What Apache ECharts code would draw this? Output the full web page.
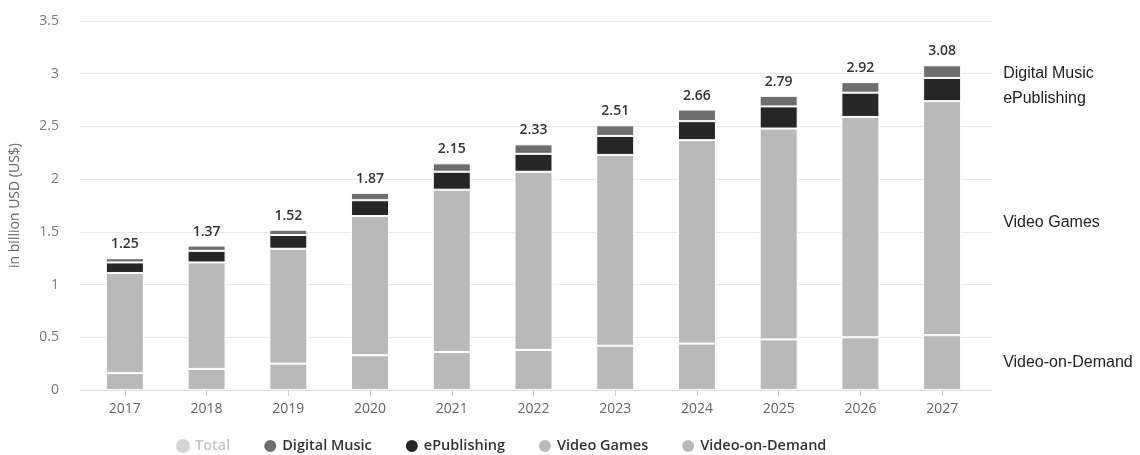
<!DOCTYPE html>
<html>
<head>
<meta charset="utf-8">
<script src="https://cdn.jsdelivr.net/npm/echarts@6/dist/echarts.min.js"></script>
<style>
html,body{margin:0;padding:0;background:#fff;}
#chart{width:1140px;height:455px;}
</style>
</head>
<body>
<div id="chart"></div>
<script>
const years = ['2017','2018','2019','2020','2021','2022','2023','2024','2025','2026','2027'];
const videoOnDemand = [0.16,0.20,0.25,0.33,0.36,0.38,0.42,0.44,0.48,0.50,0.52];
const videoGames    = [0.95,1.01,1.09,1.32,1.54,1.69,1.81,1.93,2.00,2.09,2.22];
const ePublishing   = [0.10,0.11,0.13,0.15,0.17,0.17,0.18,0.18,0.21,0.23,0.22];
const digitalMusic  = [0.04,0.05,0.05,0.07,0.08,0.09,0.10,0.11,0.10,0.10,0.12];
const totals        = [1.25,1.37,1.52,1.87,2.15,2.33,2.51,2.66,2.79,2.92,3.08];
const yTicks = [0,0.5,1,1.5,2,2.5,3,3.5];

const FONT = '"Open Sans", "Noto Sans", sans-serif';
const last = years.length - 1;

function withEndLabel(arr, name, offset) {
  return arr.map((v, i) => i === last ? {
    value: v,
    label: {
      show: true, position: 'right', distance: 42, offset: offset,
      formatter: name, color: '#222', fontSize: 16,
      fontFamily: '"Liberation Sans", Arial, sans-serif'
    }
  } : v);
}

const barStyle = (c) => ({ color: c, borderColor: '#ffffff', borderWidth: 1 });

const chart = echarts.init(document.getElementById('chart'));
chart.setOption({
  animation: false,
  backgroundColor: '#fff',
  grid: [
    { left: 76, right: 148, top: 21, bottom: 65, containLabel: false },
    { left: 84, right: 157, top: 21, bottom: 65, containLabel: false }
  ],
  legend: {
    top: 433,
    left: 171,
    icon: 'circle',
    itemWidth: 14, itemHeight: 14,
    itemGap: 32,
    textStyle: { fontFamily: FONT, fontSize: 14.5, fontWeight: 600, color: '#333' },
    data: [
      { name: 'Total', itemStyle: { color: '#d4d4d4' }, textStyle: { color: '#c4c4c4' } },
      { name: 'Digital Music' },
      { name: 'ePublishing' },
      { name: 'Video Games' },
      { name: 'Video-on-Demand' }
    ]
  },
  xAxis: [
    { type: 'category', gridIndex: 0, data: years, show: true,
      axisLine: { show: true, lineStyle: { color: '#dedede' } },
      axisTick: { show: false }, axisLabel: { show: false }, splitLine: { show: false } },
    { type: 'category', gridIndex: 1, data: years,
      axisLine: { show: false },
      axisTick: { show: true, alignWithLabel: true, length: 6, lineStyle: { color: '#cfcfcf' } },
      axisLabel: { color: '#666', fontFamily: FONT, fontSize: 14, margin: 12 } }
  ],
  yAxis: [
    { type: 'value', gridIndex: 0, min: 0, max: 3.5, interval: 0.5,
      name: 'in billion USD (US$)', nameLocation: 'middle', nameGap: 58,
      nameTextStyle: { color: '#666', fontFamily: FONT, fontSize: 14 },
      axisLabel: { color: '#777', fontFamily: FONT, fontSize: 14, margin: 21,
        formatter: (v) => String(yTicks.find(t => Math.abs(t - v) < 1e-9) ?? v) },
      axisLine: { show: false }, axisTick: { show: false },
      splitLine: { lineStyle: { color: '#e9e9e9' } } },
    { type: 'value', gridIndex: 1, min: 0, max: 3.5, interval: 0.5, show: false,
      splitLine: { show: false } }
  ],
  series: [
    { name: 'Video-on-Demand', type: 'bar', stack: 'a', xAxisIndex: 1, yAxisIndex: 1,
      barWidth: 38, itemStyle: barStyle('#b9b9b9'),
      data: withEndLabel(videoOnDemand, 'Video-on-Demand', [0, 0]) },
    { name: 'Video Games', type: 'bar', stack: 'a', xAxisIndex: 1, yAxisIndex: 1,
      barWidth: 38, itemStyle: barStyle('#b9b9b9'),
      data: withEndLabel(videoGames, 'Video Games', [0, 4]) },
    { name: 'ePublishing', type: 'bar', stack: 'a', xAxisIndex: 1, yAxisIndex: 1,
      barWidth: 38, itemStyle: barStyle('#262626'),
      data: withEndLabel(ePublishing, 'ePublishing', [0, 9]) },
    { name: 'Digital Music', type: 'bar', stack: 'a', xAxisIndex: 1, yAxisIndex: 1,
      barWidth: 38, barGap: '-100%', itemStyle: barStyle('#6e6e6e'),
      data: withEndLabel(digitalMusic, 'Digital Music', [0, 2]) },
    { name: 'Total', type: 'bar', xAxisIndex: 1, yAxisIndex: 1,
      barWidth: 38, barGap: '-100%', z: 1,
      itemStyle: { color: 'rgba(0,0,0,0)' },
      label: { show: true, position: 'top', distance: 7, color: '#333',
        fontFamily: FONT, fontSize: 14, fontWeight: 600,
        formatter: (p) => totals[p.dataIndex].toFixed(2) },
      data: totals }
  ]
});
</script>
</body>
</html>
